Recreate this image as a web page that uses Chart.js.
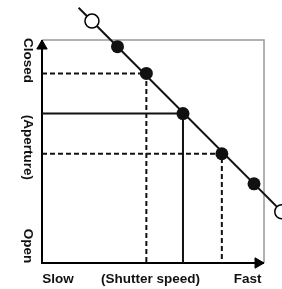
<!DOCTYPE html>
<html>
<head>
<meta charset="utf-8">
<script src="https://cdn.jsdelivr.net/npm/chart.js@4"></script>
<style>
  html, body { margin: 0; padding: 0; background: #fff; }
  #wrap { width: 282px; height: 289px; position: relative; }
</style>
</head>
<body>
<div id="wrap"><canvas id="chart"></canvas></div>
<script>
'use strict';

// exposure line: shutter speed (x, slow -> fast) vs aperture (y, open -> closed), 0..100
const lineX = [16.5, 112];
const lineY = [114.5, 19];
const filledX = [34, 47, 63.5, 81, 95.5];
const filledY = [97, 85, 67, 49, 35.5];
const openX = [22.5, 108];
const openY = [108.5, 23];
// which filled points get guide lines, and whether dashed
const guideIdx = [1, 2, 3];
const guideDashed = [true, false, true];

const yLabels = ['Closed', '(Aperture)', 'Open'];
const yLabelPos = [90.8, 51.8, 7.6];
const xLabels = ['Slow', '(Shutter speed)', 'Fast'];
const xLabelPos = [7.2, 48.9, 92.6];

const pts = (xs, ys) => xs.map((x, i) => ({x: x, y: ys[i]}));

const datasets = [];

datasets.push({
  data: pts(openX, openY),
  pointRadius: 7,
  pointBackgroundColor: '#fff',
  pointBorderColor: '#000',
  pointBorderWidth: 1.5,
  showLine: false,
  order: 0
});
datasets.push({
  data: pts(filledX, filledY),
  pointRadius: 6.5,
  pointBackgroundColor: '#111',
  pointBorderColor: '#111',
  pointBorderWidth: 0,
  showLine: false,
  order: 1
});
datasets.push({
  data: pts(lineX, lineY),
  borderColor: '#111',
  borderWidth: 2,
  pointRadius: 0,
  showLine: true,
  order: 2
});

guideIdx.forEach((k, i) => {
  const x = filledX[k], y = filledY[k];
  datasets.push({
    data: [{x: 0, y: y}, {x: x, y: y}, {x: x, y: 0}],
    borderColor: '#111',
    borderWidth: 2,
    borderDash: guideDashed[i] ? [5, 3] : [],
    pointRadius: 0,
    showLine: true,
    order: 3
  });
});

// axes with arrowheads
datasets.push({
  data: [{x: 0, y: 100}, {x: 0, y: 0}, {x: 100, y: 0}],
  borderColor: '#000',
  borderWidth: 2,
  pointRadius: 0,
  showLine: true,
  order: 4
});
datasets.push({
  data: [{x: 0, y: 97.3}, {x: 97.3, y: 0}],
  pointStyle: 'triangle',
  pointRadius: 6,
  pointRotation: [0, 90],
  pointBackgroundColor: '#000',
  pointBorderColor: '#000',
  pointBorderWidth: 1,
  showLine: false,
  order: 4
});

// grey frame
datasets.push({
  data: [{x: 0, y: 100}, {x: 100, y: 100}, {x: 100, y: 0}],
  borderColor: '#999',
  borderWidth: 1.5,
  pointRadius: 0,
  showLine: true,
  order: 5
});

datasets.forEach(d => { d.clip = false; });

const labelPlugin = {
  id: 'labels',
  afterDraw(chart) {
    const ctx = chart.ctx;
    const xs = chart.scales.x, ys = chart.scales.y;
    ctx.save();
    ctx.fillStyle = '#111';
    ctx.font = 'bold 13.5px "Liberation Sans", Arial, sans-serif';
    ctx.textAlign = 'center';
    ctx.textBaseline = 'middle';
    yLabels.forEach((t, i) => {
      ctx.save();
      ctx.translate(xs.getPixelForValue(0) - 14, ys.getPixelForValue(yLabelPos[i]));
      ctx.rotate(Math.PI / 2);
      ctx.fillText(t, 0, 0);
      ctx.restore();
    });
    xLabels.forEach((t, i) => {
      ctx.fillText(t, xs.getPixelForValue(xLabelPos[i]), ys.getPixelForValue(0) + 16);
    });
    ctx.restore();
  }
};

// the plot area fills the whole canvas so the open circles at the ends are drawn;
// 0..100 lands on the drawn axes
const chart = new Chart(document.getElementById('chart'), {
  type: 'scatter',
  data: {datasets: datasets},
  options: {
    responsive: true,
    maintainAspectRatio: false,
    animation: false,
    events: [],
    layout: {padding: 0, autoPadding: false},
    plugins: {legend: {display: false}, tooltip: {enabled: false}},
    scales: {
      x: {type: 'linear', min: -18.92, max: 108.1, display: false},
      y: {type: 'linear', min: -11.66, max: 117.94, display: false}
    }
  },
  plugins: [labelPlugin]
});
</script>
</body>
</html>
